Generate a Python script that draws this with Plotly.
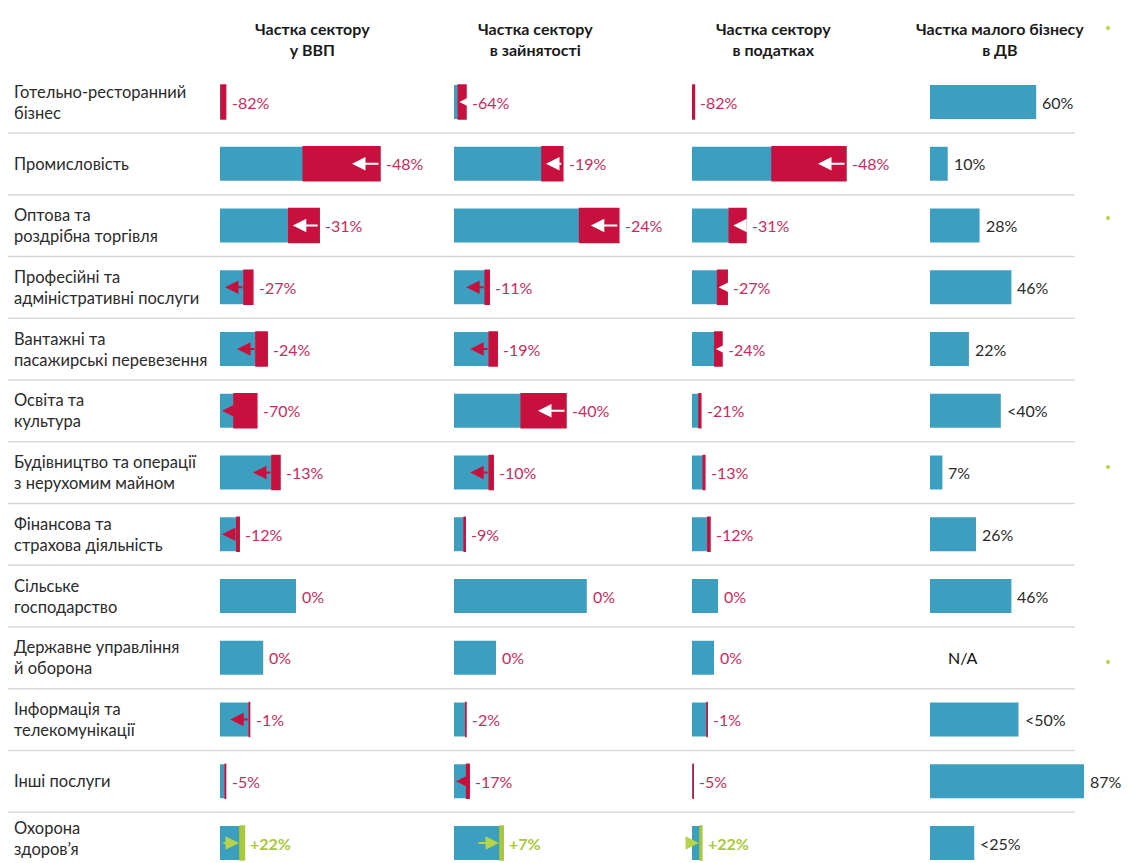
import plotly.graph_objects as go

W, H = 1138, 863

sectors = [
    "Готельно-ресторанний<br>бізнес",
    "Промисловість",
    "Оптова та<br>роздрібна торгівля",
    "Професійні та<br>адміністративні послуги",
    "Вантажні та<br>пасажирські перевезення",
    "Освіта та<br>культура",
    "Будівництво та операції<br>з нерухомим майном",
    "Фінансова та<br>страхова діяльність",
    "Сільське<br>господарство",
    "Державне управління<br>й оборона",
    "Інформація та<br>телекомунікації",
    "Інші послуги",
    "Охорона<br>здоров’я",
]

headers = [
    "Частка сектору<br>у ВВП",
    "Частка сектору<br>в зайнятості",
    "Частка сектору<br>в податках",
    "Частка малого бізнесу<br>в ДВ",
]

# share of sector (before / after), %
gdp_before = [0.7, 20.0, 12.4, 4.1, 5.9, 4.6, 7.5, 2.4, 9.5, 5.4, 3.7, 0.7, 2.5]
gdp_after = [0.13, 10.4, 8.6, 3.0, 4.5, 1.75, 6.5, 2.1, 9.5, 5.4, 3.66, 0.66, 3.05]
gdp_labels = ["-82%", "-48%", "-31%", "-27%", "-24%", "-70%", "-13%", "-12%",
              "0%", "0%", "-1%", "-5%", "+22%"]

emp_before = [1.5, 13.6, 20.6, 4.4, 5.4, 14.0, 4.9, 1.4, 16.6, 5.25, 1.5, 1.9, 5.75]
emp_after = [0.54, 11.0, 15.7, 3.9, 4.4, 8.4, 4.4, 1.27, 16.6, 5.25, 1.47, 1.58, 6.15]
emp_labels = ["-64%", "-19%", "-24%", "-11%", "-19%", "-40%", "-10%", "-9%",
              "0%", "0%", "-2%", "-17%", "+7%"]

tax_before = [0.3, 19.25, 6.75, 4.4, 3.75, 1.1, 1.6, 2.25, 3.25, 2.75, 1.9, 0.15, 1.0]
tax_after = [0.055, 10.0, 4.66, 3.2, 2.85, 0.87, 1.4, 1.98, 3.25, 2.75, 1.88, 0.145, 1.22]
tax_labels = ["-82%", "-48%", "-31%", "-27%", "-24%", "-21%", "-13%", "-12%",
              "0%", "0%", "-1%", "-5%", "+22%"]

small_biz = [60, 10, 28, 46, 22, 40, 7, 26, 46, None, 50, 87, 25]
small_biz_labels = ["60%", "10%", "28%", "46%", "22%", "<40%", "7%", "26%",
                    "46%", "N/A", "<50%", "87%", "<25%"]

# ---- styling -------------------------------------------------------------
BLUE = "#3c9fc0"
RED = "#c8103e"
RED_TXT = "#cc2a5c"
GREEN = "#a9c93a"
GREEN_ARROW = "#b6d34a"
TXT = "#2b2b2b"
FONT = "Lato"

arrow_styles = [
    ["", "w", "w", "r", "r", "r", "r", "r", "", "", "r", "", "g"],
    ["n", "w", "w", "r", "r", "w", "r", "", "", "", "", "r", "g"],
    ["", "w", "w", "n", "n", "", "", "", "", "", "", "", "g"],
]

dom_px = [(220, 440), (454, 680), (692, 910), (930, 1130)]
ppu = [8.0, 8.0, 8.0, 1.77]          # pixels per unit for each column
axes = ["x", "x2", "x3", "x4"]

n = len(sectors)
rows = list(range(n))
BAR_W = 0.55
row_px0, row_step = 102, 61.75

fig = go.Figure()

cols = [(gdp_before, gdp_after, gdp_labels),
        (emp_before, emp_after, emp_labels),
        (tax_before, tax_after, tax_labels)]

for c, (bef, aft, labs) in enumerate(cols):
    xa = axes[c]
    blue = [min(b, a) for b, a in zip(bef, aft)]
    red_base = [a if a < b else None for b, a in zip(bef, aft)]
    red_len = [b - a if a < b else None for b, a in zip(bef, aft)]
    grn_base = [b if a > b else None for b, a in zip(bef, aft)]
    grn_len = [a - b if a > b else None for b, a in zip(bef, aft)]
    fig.add_trace(go.Bar(y=rows, x=blue, base=0, orientation="h", width=BAR_W,
                         marker=dict(color=BLUE, line=dict(width=0)),
                         xaxis=xa, yaxis="y", showlegend=False, hoverinfo="skip"))
    fig.add_trace(go.Bar(y=rows, x=red_len, base=red_base, orientation="h", width=BAR_W,
                         marker=dict(color=RED, line=dict(color=RED, width=1.5)),
                         xaxis=xa, yaxis="y", showlegend=False, hoverinfo="skip"))
    fig.add_trace(go.Bar(y=rows, x=grn_len, base=grn_base, orientation="h", width=BAR_W,
                         marker=dict(color=GREEN, line=dict(color=GREEN, width=1.6)),
                         xaxis=xa, yaxis="y", showlegend=False, hoverinfo="skip"))
    for i in rows:
        b, a = bef[i], aft[i]
        end = max(b, a)
        lab = labs[i]
        col = GREEN if lab.startswith("+") else RED_TXT
        fig.add_annotation(x=end, y=i, xref=xa, yref="y", text=lab, showarrow=False,
                           xanchor="left", xshift=4,
                           font=dict(family=FONT, size=16, color=col,
                                     weight="bold" if lab.startswith("+") else "normal"))
        st = arrow_styles[c][i]
        p = ppu[c]
        blue_px = min(b, a) * p
        red_px = (b - a) * p
        if st == "w":
            tail = b
            tip = b - min(28, red_px - 4) / p
            color = "white"
        elif st == "r":
            tail = a
            tip = a - min(19, blue_px - 2) / p
            color = RED
        elif st == "n":
            tail = b
            tip = a + 1.0 / p
            color = "white"
        elif st == "g":
            tip = b - 1.0 / p
            tail = tip - max(min(22, blue_px - 3), 8) / p
            color = GREEN_ARROW
        else:
            continue
        fig.add_annotation(x=tip, y=i, ax=tail, ay=i, xref=xa, yref="y",
                           axref=xa, ayref="y", text="", showarrow=True,
                           arrowhead=2, arrowsize=1.35, arrowwidth=2,
                           arrowcolor=color, standoff=0, startstandoff=0)

# small business column
fig.add_trace(go.Bar(y=rows, x=small_biz, base=0, orientation="h", width=BAR_W,
                     marker=dict(color=BLUE, line=dict(width=0)),
                     xaxis="x4", yaxis="y", showlegend=False, hoverinfo="skip"))
for i in rows:
    v = small_biz[i]
    fig.add_annotation(x=v if v is not None else 0, y=i, xref="x4", yref="y",
                       text=small_biz_labels[i], showarrow=False, xanchor="left",
                       xshift=4 if v is not None else 16,
                       font=dict(family=FONT, size=16,
                                 color="#111" if v is None else TXT))

# category labels
for i, s in enumerate(sectors):
    fig.add_annotation(x=12 / W, y=i, xref="paper", yref="y", text=s,
                       showarrow=False, xanchor="left", align="left",
                       yshift=5 if i == n - 1 else 0,
                       font=dict(family=FONT, size=16.5, color=TXT))

# headers
head_cx = [312, 535, 773, 1000]
for cx, h in zip(head_cx, headers):
    fig.add_annotation(x=cx / W, y=1 - 39 / H, xref="paper", yref="paper", text=h,
                       showarrow=False, xanchor="center", yanchor="middle",
                       font=dict(family=FONT, size=16, color="#1a1a1a", weight="bold"))

# row separators
for i in range(n - 1):
    fig.add_shape(type="line", xref="paper", yref="y", x0=8 / W, x1=1075 / W,
                  y0=i + 0.5, y1=i + 0.5, line=dict(color="#d9d9d9", width=1.5),
                  layer="below")

# tiny page bullets on the right edge
for yp in [28, 218, 467, 662]:
    fig.add_shape(type="circle", xref="paper", yref="paper",
                  x0=1106 / W, x1=1110 / W, y0=1 - (yp + 2) / H, y1=1 - (yp - 2) / H,
                  fillcolor="#b8d43a", line=dict(width=0))

layout_axes = {}
for k, (xa, (p0, p1), p) in enumerate(zip(axes, dom_px, ppu)):
    name = "xaxis" if k == 0 else f"xaxis{k + 1}"
    layout_axes[name] = dict(domain=[p0 / W, p1 / W], range=[0, (p1 - p0) / p],
                             visible=False, fixedrange=True, anchor="y")

y_top = -row_px0 / row_step
y_bot = (H - row_px0) / row_step
fig.update_layout(
    width=W, height=H, autosize=False,
    margin=dict(l=0, r=0, t=0, b=0),
    paper_bgcolor="white", plot_bgcolor="white",
    barmode="overlay",
    yaxis=dict(range=[y_bot, y_top], visible=False, fixedrange=True, domain=[0, 1]),
    **layout_axes,
)

fig.write_html("out.html", config={"displayModeBar": False},
               post_script="document.body.style.margin='0';document.body.style.overflow='hidden';")
